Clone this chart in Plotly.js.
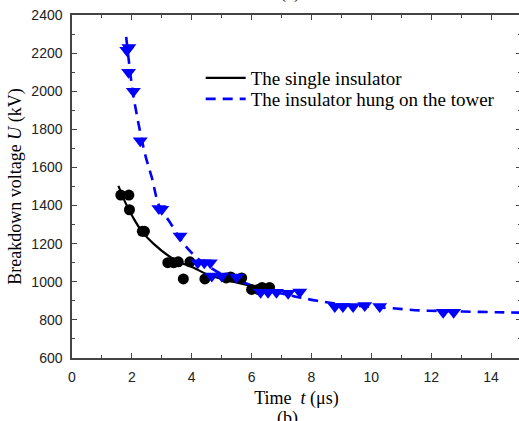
<!DOCTYPE html>
<html><head><meta charset="utf-8">
<script src="https://cdn.plot.ly/plotly-3.0.1.min.js"></script>
<style>html,body{margin:0;padding:0;overflow:hidden;background:#fff}</style>
</head><body><div id="chart" style="width:522px;height:421px"></div>
<script>
// Measured data: the single insulator (black circles)
const singleT = [1.63, 1.9, 1.92, 2.35, 2.42, 3.2, 3.4, 3.55, 3.72, 3.94, 4.44, 5.15, 5.3, 5.67, 6.0, 6.22, 6.35, 6.6];
const singleU = [1455, 1455, 1378, 1265, 1265, 1100, 1100, 1105, 1015, 1105, 1015, 1020, 1025, 1020, 960, 960, 970, 970];
// Measured data: the insulator hung on the tower (blue triangles)
const towerT = [1.83, 1.9, 1.89, 2.05, 2.28, 2.9, 3.0, 3.61, 4.2, 4.42, 4.62, 4.67, 5.0, 5.5, 6.3, 6.55, 6.83, 7.22, 7.61, 8.78, 9.05, 9.39, 9.78, 10.28, 12.4, 12.75];
const towerU = [2215, 2230, 2100, 2000, 1740, 1385, 1380, 1240, 1100, 1100, 1100, 1030, 1030, 1025, 945, 945, 945, 940, 946, 870, 870, 870, 876, 870, 840, 840];
// Fitted curves
const fitSingleT = [1.55, 1.8, 2.05, 2.33, 2.72, 3.28, 3.6, 4.05, 4.5, 5.28, 5.94, 6.67];
const fitSingleU = [1503, 1410, 1335, 1266, 1200, 1130, 1102, 1075, 1040, 1004, 980, 955];
const fitTowerT = [1.81, 2.0, 2.16, 2.44, 2.67, 2.91, 3.28, 3.6, 3.89, 4.3, 5.0, 5.5, 6.3, 7.0, 7.6, 8.2, 9.0, 10.0, 10.7, 11.6, 12.5, 13.35, 14.2, 15];
const fitTowerU = [2285, 2030, 1880, 1670, 1545, 1400, 1310, 1230, 1170, 1110, 1040, 1010, 965, 938, 918, 900, 882, 868, 861, 850, 846, 843, 840, 838];

const serif = "Liberation Serif, Times New Roman, serif";
const sans = "Liberation Sans, Arial, sans-serif";

const traces = [
  {x: fitSingleT, y: fitSingleU, mode: 'lines', line: {color: '#000', width: 2.2, shape: 'spline'}, name: 'The single insulator', legend: 'legend'},
  {x: fitTowerT, y: fitTowerU, mode: 'lines', line: {color: '#0000ff', width: 2.6, dash: '10px,7px', shape: 'spline'}, name: 'The insulator hung on the tower', legend: 'legend2'},
  {x: singleT, y: singleU, mode: 'markers', marker: {symbol: 'circle', size: 11, color: '#000'}, showlegend: false},
  {x: towerT, y: towerU, mode: 'markers', marker: {symbol: 'triangle-down', size: 13, color: '#0000ff'}, showlegend: false}
];

const axisCommon = {
  showline: true, linecolor: '#444', linewidth: 1.7, mirror: 'ticks',
  ticks: 'inside', ticklen: 5, tickwidth: 1, tickcolor: '#444',
  showgrid: false, zeroline: false,
  tickfont: {family: sans, size: 14, color: '#222'},
  ticklabelstandoff: 5
};

const legendCommon = {xanchor: 'left', yanchor: 'middle', bgcolor: 'rgba(0,0,0,0)',
  font: {family: serif, size: 19, color: '#000'}, itemwidth: 40};

const layout = {
  width: 522, height: 421,
  margin: {l: 72, r: 1, t: 15, b: 63},
  paper_bgcolor: '#fff', plot_bgcolor: '#fff',
  showlegend: true,
  legend: Object.assign({}, legendCommon, {x: 0.2866, y: 0.816}),
  legend2: Object.assign({}, legendCommon, {x: 0.2866, y: 0.755}),
  xaxis: Object.assign({}, axisCommon, {
    range: [0, 15], tick0: 0, dtick: 2,
    minor: {dtick: 1, ticklen: 3, ticks: 'inside', tickcolor: '#444'},
    title: {text: 'Time\u00a0\u00a0<i>t</i> (μs)', font: {family: serif, size: 18, color: '#000'}, standoff: 8}
  }),
  yaxis: Object.assign({}, axisCommon, {
    range: [600, 2400], tick0: 600, dtick: 200,
    minor: {dtick: 100, ticklen: 3, ticks: 'inside', tickcolor: '#444'},
    title: {text: 'Breakdown voltage <i>U</i> (kV)', font: {family: serif, size: 18, color: '#000'}, standoff: 5}
  }),
  annotations: [
    {text: '(a)', xref: 'paper', yref: 'paper', x: 0.486, y: 1.03, xanchor: 'center', yanchor: 'bottom', showarrow: false, font: {family: serif, size: 18, color: '#000'}},
    {text: '(b)', xref: 'paper', yref: 'paper', x: 0.48, y: -0.14, xanchor: 'center', yanchor: 'top', showarrow: false, font: {family: serif, size: 18, color: '#000'}}
  ]
};

Plotly.newPlot('chart', traces, layout, {displayModeBar: false, staticPlot: true});
</script></body></html>
